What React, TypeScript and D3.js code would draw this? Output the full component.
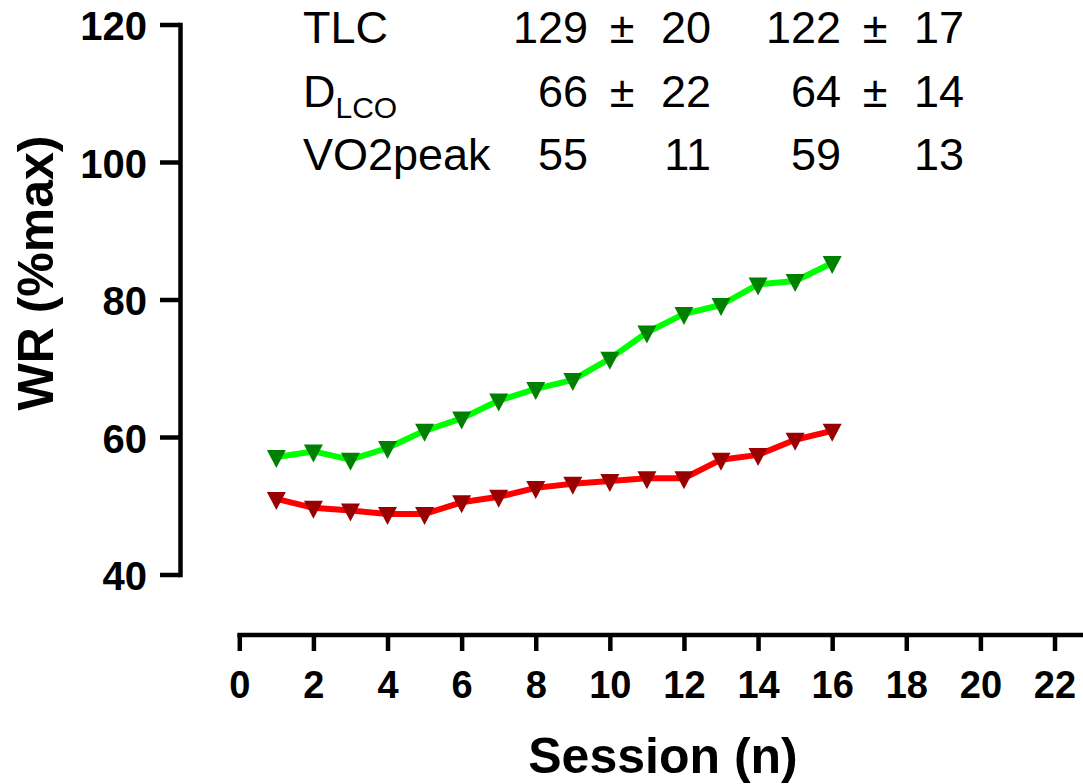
import React, { useRef, useEffect } from "react";
import * as d3 from "d3";

// sessions and WR (%max) per group
const sessions = [1, 2, 3, 4, 5, 6, 7, 8, 9, 10, 11, 12, 13, 14, 15, 16];
const greenValues = [57.1, 57.9, 56.7, 58.4, 60.9, 62.7, 65.3, 67.0, 68.3, 71.4, 75.2, 77.9, 79.2, 82.2, 82.7, 85.3];
const redValues = [51.0, 49.7, 49.3, 48.8, 48.8, 50.5, 51.3, 52.6, 53.2, 53.6, 54.0, 54.0, 56.7, 57.4, 59.6, 60.9];

const yTicks = [40, 60, 80, 100, 120];
const xTicks = [0, 2, 4, 6, 8, 10, 12, 14, 16, 18, 20, 22];

// annotation table
const tableLabels = ["TLC", "D", "VO2peak"];
const tableSubs = ["", "LCO", ""];
const group1Mean = [129, 66, 55];
const group1Sd = [20, 22, 11];
const group2Mean = [122, 64, 59];
const group2Sd = [17, 14, 13];
const showPlusMinus = [true, true, false];

const FONT = "'Liberation Sans', Arial, Helvetica, sans-serif";

const App = () => {
  const ref = useRef<SVGSVGElement>(null);

  useEffect(() => {
    const svg = d3.select(ref.current);
    svg.selectAll("*").remove();

    const x = d3.scaleLinear().domain([0, 22]).range([239.3, 1054.5]);
    const y = d3.scaleLinear().domain([40, 120]).range([574.5, 24.5]);

    // y axis
    const yAxis = svg
      .append("g")
      .attr("transform", "translate(180,0)")
      .call(d3.axisLeft(y).tickValues(yTicks).tickSize(20).tickSizeOuter(0).tickPadding(13));
    yAxis.select(".domain").attr("stroke", "#000").attr("stroke-width", 4.5).attr("stroke-linecap", "square");
    yAxis.selectAll("line").attr("stroke", "#000").attr("stroke-width", 4.5);
    yAxis
      .selectAll("text")
      .attr("dy", "0.38em")
      .style("font-family", FONT)
      .style("font-weight", "bold")
      .style("font-size", "40px")
      .style("fill", "#000");

    // x axis (separate, offset below)
    const xAxis = svg
      .append("g")
      .attr("transform", "translate(0,635)")
      .call(d3.axisBottom(x).tickValues(xTicks).tickSize(16).tickSizeOuter(0).tickPadding(20));
    xAxis.select(".domain").remove();
    xAxis
      .append("line")
      .attr("x1", x(0) - 2)
      .attr("x2", 1083)
      .attr("stroke", "#000")
      .attr("stroke-width", 4.5);
    xAxis.selectAll(".tick line").attr("stroke", "#000").attr("stroke-width", 4.5);
    xAxis
      .selectAll("text")
      .style("font-family", FONT)
      .style("font-weight", "bold")
      .style("font-size", "38px")
      .style("fill", "#000");

    // axis titles
    svg
      .append("text")
      .attr("x", 663)
      .attr("y", 773)
      .attr("text-anchor", "middle")
      .style("font-family", FONT)
      .style("font-weight", "bold")
      .style("font-size", "50px")
      .text("Session (n)");

    svg
      .append("text")
      .attr("transform", "translate(53,273) rotate(-90)")
      .attr("text-anchor", "middle")
      .style("font-family", FONT)
      .style("font-weight", "bold")
      .style("font-size", "50px")
      .text("WR (%max)");

    // series
    const series = [
      { values: redValues, line: "#ff0000", marker: "#990000" },
      { values: greenValues, line: "#00ff00", marker: "#008000" },
    ];
    const line = d3
      .line<number>()
      .x((_, i) => x(sessions[i]))
      .y((d) => y(d));

    series.forEach((s) => {
      svg
        .append("path")
        .datum(s.values)
        .attr("d", line)
        .attr("fill", "none")
        .attr("stroke", s.line)
        .attr("stroke-width", 6)
        .attr("stroke-linejoin", "round");

      svg
        .selectAll(null)
        .data(s.values)
        .enter()
        .append("path")
        .attr("d", (d, i) => {
          const cx = x(sessions[i]);
          const cy = y(d);
          return `M${cx - 9.5},${cy - 7}L${cx + 9.5},${cy - 7}L${cx},${cy + 11}Z`;
        })
        .attr("fill", s.marker);
    });

    // annotation table
    const rowY = [43, 107, 170];
    const table = svg
      .append("g")
      .style("font-family", FONT)
      .style("font-size", "45px")
      .style("fill", "#000");

    tableLabels.forEach((label, i) => {
      const t = table.append("text").attr("x", 303).attr("y", rowY[i]).text(label);
      if (tableSubs[i]) {
        t.append("tspan").attr("dy", 11).style("font-size", "30px").text(tableSubs[i]);
      }
      table.append("text").attr("x", 588).attr("y", rowY[i]).attr("text-anchor", "end").text(group1Mean[i]);
      table.append("text").attr("x", 711).attr("y", rowY[i]).attr("text-anchor", "end").text(group1Sd[i]);
      table.append("text").attr("x", 841).attr("y", rowY[i]).attr("text-anchor", "end").text(group2Mean[i]);
      table.append("text").attr("x", 964).attr("y", rowY[i]).attr("text-anchor", "end").text(group2Sd[i]);
      if (showPlusMinus[i]) {
        table.append("text").attr("x", 622).attr("y", rowY[i]).attr("text-anchor", "middle").text("±");
        table.append("text").attr("x", 875).attr("y", rowY[i]).attr("text-anchor", "middle").text("±");
      }
    });
  }, []);

  return (
    <svg
      ref={ref}
      width={1083}
      height={784}
      style={{ position: "absolute", left: 0, top: 0, background: "#fff" }}
    />
  );
};

export default App;
